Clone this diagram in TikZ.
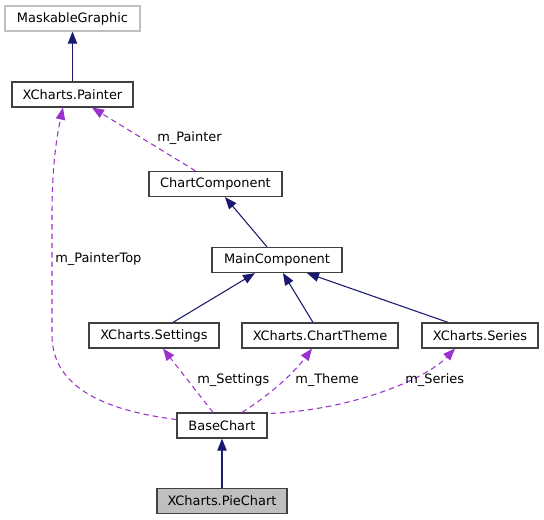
\documentclass[tikz,border=0pt]{standalone}
\usepackage{fontspec}
\setmainfont{DejaVu Sans}
\usetikzlibrary{arrows.meta,calc}
\definecolor{inhcol}{HTML}{191970}
\definecolor{usecol}{HTML}{9A32CD}
\definecolor{boxline}{HTML}{404040}
\definecolor{greyline}{HTML}{BFBFBF}
\definecolor{greyfill}{HTML}{BFBFBF}
\tikzset{
  cls/.style={draw=boxline, line width=0.9pt, fill=white, inner sep=0pt, minimum height=25*0.75pt,
    font=\fontsize{9.7pt}{11pt}\selectfont},
  ext/.style={cls, draw=greyline},
  cur/.style={cls, fill=greyfill},
  inh/.style={draw=inhcol, line width=0.8pt, -{Triangle[length=9pt,width=7pt]}},
  use/.style={draw=usecol, line width=0.8pt, dash pattern=on 4pt off 3pt, -{Triangle[length=9pt,width=7pt]}},
  lbl/.style={anchor=west, inner sep=0pt, font=\fontsize{9.7pt}{11pt}\selectfont}
}
\begin{document}
\begin{tikzpicture}[x=0.75pt,y=-0.75pt]
\useasboundingbox[fill=white] (0,0) rectangle (544,520);
% nodes
\node[ext, minimum width=135*0.75pt] (mg) at (72.5,18.5) {MaskableGraphic};
\node[cls, minimum width=121*0.75pt] (painter) at (72.5,94.5) {XCharts.Painter};
\node[cls, minimum width=133*0.75pt] (cc) at (215.5,184) {ChartComponent};
\node[cls, minimum width=130*0.75pt] (main) at (277,260) {MainComponent};
\node[cls, minimum width=130*0.75pt] (settings) at (154,335.5) {XCharts.Settings};
\node[cls, minimum width=156*0.75pt] (theme) at (320,335.5) {XCharts.ChartTheme};
\node[cls, minimum width=116*0.75pt] (series) at (480,335.5) {XCharts.Series};
\node[cls, minimum width=90*0.75pt] (base) at (222,425.5) {BaseChart};
\node[cur, minimum width=130*0.75pt] (pie) at (222,501) {XCharts.PieChart};
% inheritance
\draw[inh] (painter.north) -- (mg.south);
\draw[inh] ($(main.north)+(-10,0)$) -- ($(cc.south)+(9.5,0)$);
\draw[inh] ($(settings.north)+(19,0)$) -- ($(main.south)+(-22,0)$);
\draw[inh] ($(theme.north)+(-7,0)$) -- ($(main.south)+(6,0)$);
\draw[inh] ($(series.north)+(-32,0)$) -- ($(main.south)+(30,0)$);
\draw[inh] (pie.north) -- (base.south);
% usage
\draw[use] ($(cc.north)+(-20,0)$) -- ($(painter.south)+(19.5,0)$);
\node[lbl] (lpainter) at (157,138) {m\_Painter};
\draw[use] ($(base.west)+(0,-6)$) .. controls (100,410) and (52,385) .. (52,335)
   -- (52,215) .. controls (52,165) and (57,135) .. ($(painter.south)+(-9.5,0)$);
\node[lbl] (lpt) at (55,259) {m\_PainterTop};
\draw[use] ($(base.north)+(-9,0)$) -- ($(settings.south)+(9,0)$);
\node[lbl] (lset) at (197,380) {m\_Settings};
\draw[use] ($(base.north)+(20,0)$) .. controls (262,400) and (290,378) .. ($(theme.south)+(-8,0)$);
\node[lbl] (lthe) at (295,380) {m\_Theme};
\draw[use] ($(base.north east)+(3,1)$) .. controls (350,410) and (425,380) .. ($(series.south)+(-25,0)$);
\node[lbl] (lser) at (405,380) {m\_Series};
\end{tikzpicture}
\end{document}
